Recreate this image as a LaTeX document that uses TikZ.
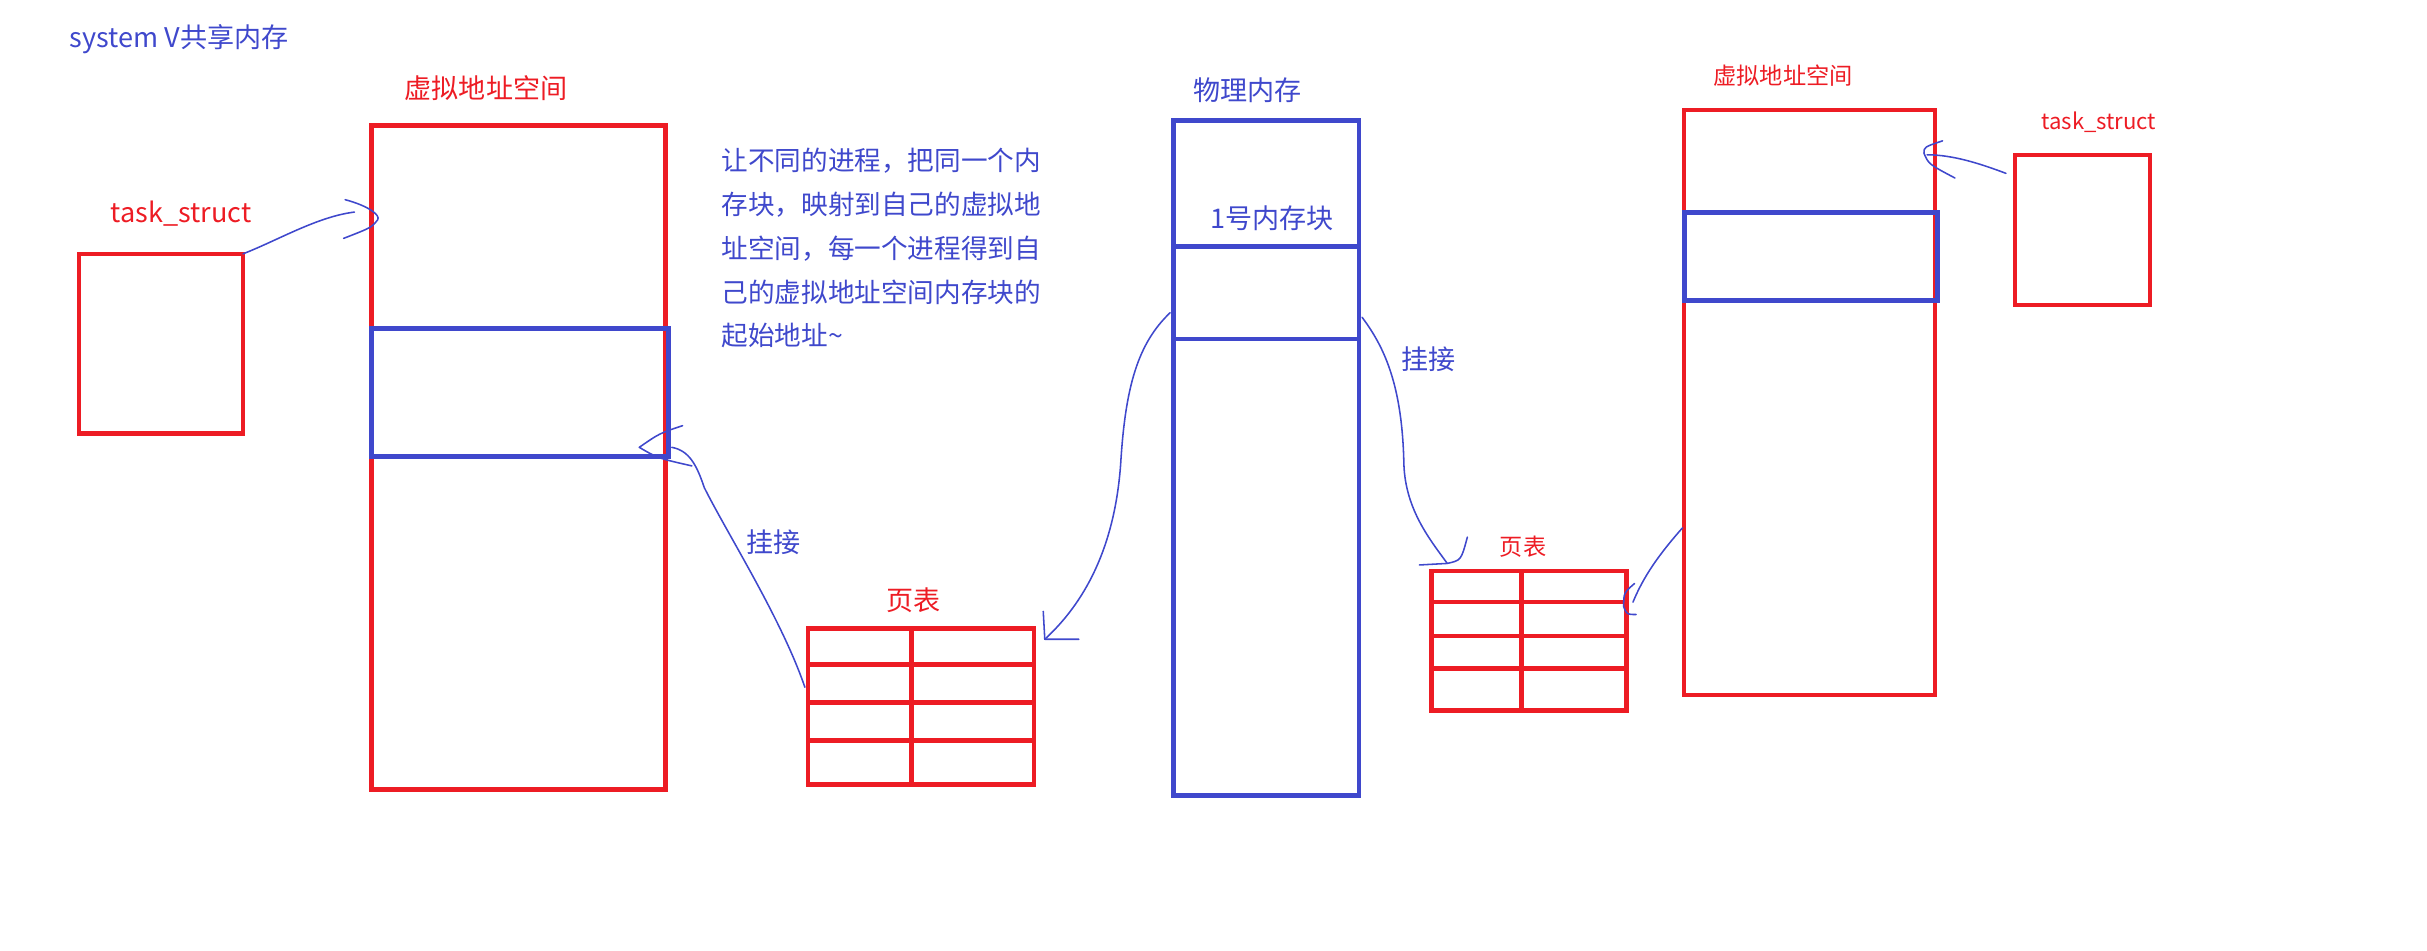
\documentclass[tikz,border=0pt]{standalone}
\usepackage{fontspec}
\setmainfont{Noto Sans CJK SC}
\usetikzlibrary{calc}
\definecolor{pred}{HTML}{ED1C24}
\definecolor{pblue}{HTML}{3F48CC}
\begin{document}
\begin{tikzpicture}[x=1pt,y=-1pt,
  box/.style={draw, line width=2.8pt, inner sep=0pt, outer sep=0pt, anchor=north west},
  redbox/.style={box, draw=pred},
  bluebox/.style={box, draw=pblue, line width=3.2pt},
  tline/.style={draw=pred, line width=3pt},
  wire/.style={draw=pblue, line width=1pt, line cap=round, line join=round},
  lbl/.style={inner sep=0pt, font=\fontsize{17.5}{20}\selectfont},
  rlbl/.style={lbl, text=pred},
  blbl/.style={lbl, text=pblue},
  small/.style={font=\fontsize{15}{18}\selectfont},
]
\useasboundingbox (0,0) rectangle (1568,614);

% ---- left process ----
\node[redbox, minimum width=190pt, minimum height=429pt] (vaL) at (240,81) {};
\node[bluebox, minimum width=192pt, minimum height=83pt] (shmL) at (240,212) {};
\node[redbox, minimum width=106pt, minimum height=116pt] (tsL) at (51,164) {};

% left page table
\node[redbox, line width=3pt, minimum width=146pt, minimum height=101pt] (ptL) at (522,406) {};
\draw[tline] ($(ptL.north west)+(0,23.5)$) -- ($(ptL.north east)+(0,23.5)$);
\draw[tline] ($(ptL.north west)+(0,48)$) -- ($(ptL.north east)+(0,48)$);
\draw[tline] ($(ptL.north west)+(0,72.5)$) -- ($(ptL.north east)+(0,72.5)$);
\draw[tline] ($(ptL.north west)+(67,0)$) -- ($(ptL.south west)+(67,0)$);

% ---- physical memory ----
\node[bluebox, minimum width=120pt, minimum height=436pt] (phys) at (758,78) {};
\node[bluebox, minimum width=120pt, minimum height=60pt] (blk) at (758,159) {};

% right page table
\node[redbox, line width=3pt, minimum width=126pt, minimum height=90pt] (ptR) at (925,369) {};
\draw[tline] ($(ptR.north west)+(0,20)$) -- ($(ptR.north east)+(0,20)$);
\draw[tline] ($(ptR.north west)+(0,42)$) -- ($(ptR.north east)+(0,42)$);
\draw[tline] ($(ptR.north west)+(0,63)$) -- ($(ptR.north east)+(0,63)$);
\draw[tline] ($(ptR.north west)+(58,0)$) -- ($(ptR.south west)+(58,0)$);

% ---- right process ----
\node[redbox, minimum width=162pt, minimum height=378pt] (vaR) at (1088,71) {};
\node[bluebox, minimum width=164pt, minimum height=57pt] (shmR) at (1088,137) {};
\node[redbox, minimum width=87pt, minimum height=97pt] (tsR) at (1302,100) {};

% ---- texts ----
\node[blbl, anchor=west] (title) at (45,25) {system V共享内存};
\node[rlbl] (vaLt) at (314,57) {虚拟地址空间};
\node[rlbl] (tsLt) at (117,138) {task\_struct};
\node[blbl, anchor=north west, align=left, font=\fontsize{17.2}{28.3}\selectfont] (para) at (466,95.5)
  {让不同的进程，把同一个内\\存块，映射到自己的虚拟地\\址空间，每一个进程得到自\\己的虚拟地址空间内存块的\\起始地址\textasciitilde};
\node[blbl] (gjL) at (500,350) {挂接};
\node[rlbl] (ptLt) at (590,388) {页表};
\node[blbl] (physt) at (806,58) {物理内存};
\node[blbl] (blkt) at (822,141) {1号内存块};
\node[blbl] (gjR) at (923,232) {挂接};
\node[rlbl, small] (ptRt) at (984,353) {页表};
\node[rlbl, small] (vaRt) at (1152,49) {虚拟地址空间};
\node[rlbl, font=\fontsize{14.3}{17}\selectfont] (tsRt) at (1356,79) {task\_struct};

% ---- connectors ----
% left task_struct -> left VA
\coordinate (c1e) at (229,137);
\coordinate (c1t) at (244,142);
\draw[wire] (tsL.north east) .. controls (180,155) and (205,140) .. (c1e);
\draw[wire] (223,129) .. controls (238,133) and (246,139) .. (c1t) .. controls (240,147) .. (222,154);

% left page table -> left shm block
\coordinate (c2s) at (520,444);
\coordinate (c2e) at (434,289);
\coordinate (c2t) at (413,289);
\draw[wire] (c2s) .. controls (505,400) and (470,345) .. (455,315) .. controls (450,300) and (445,291) .. (c2e);
\draw[wire] (441,275) .. controls (426,280) .. (c2t) .. controls (425,296) .. (447,301);

% physical block -> left page table
\coordinate (c3s) at (756,202);
\coordinate (c3t) at (675,413);
\draw[wire] (c3s) .. controls (735,222) and (727,250) .. (724,300) .. controls (720,355) and (700,390) .. (c3t);
\draw[wire] (674,395) -- (c3t) -- (697,413);

% physical block -> right page table
\coordinate (c4s) at (880,205);
\coordinate (c4t) at (935,364);
\draw[wire] (c4s) .. controls (895,225) and (906,250) .. (907,300) .. controls (908,330) and (925,350) .. (c4t);
\draw[wire] (917,365) -- (c4t) .. controls (944,362) .. (948,347);

% right VA -> right page table
\coordinate (c5s) at (1087,341);
\coordinate (c5e) at (1055,389);
\coordinate (c5t) at (1049,392);
\draw[wire] (c5s) .. controls (1072,358) and (1062,372) .. (c5e);
\draw[wire] (1056,377) .. controls (1049,383) .. (c5t) .. controls (1051,397) .. (1057,397);

% right task_struct -> right VA
\coordinate (c6s) at (1296,112);
\coordinate (c6e) at (1245,100);
\coordinate (c6t) at (1243,99);
\draw[wire] (c6s) .. controls (1280,106) and (1262,100) .. (c6e);
\draw[wire] (1255,91) .. controls (1243,95) .. (c6t) .. controls (1246,106) .. (1263,115);
\end{tikzpicture}
\end{document}
